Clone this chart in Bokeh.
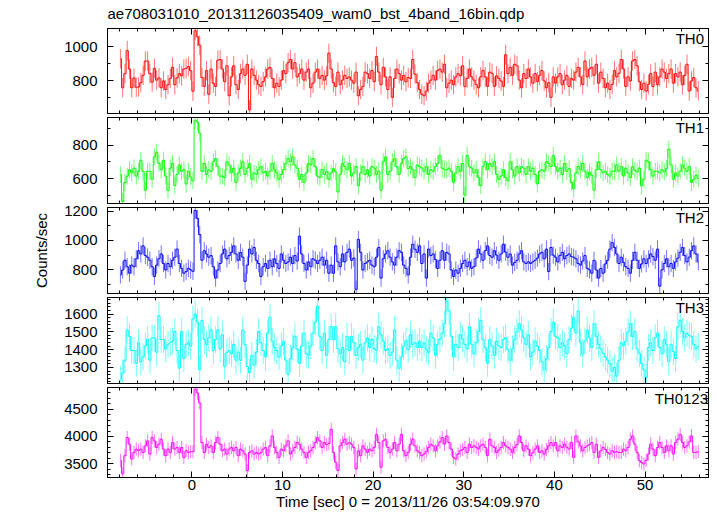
import numpy as np
from bokeh.plotting import figure
from bokeh.layouts import column
from bokeh.models import (Range1d, SingleIntervalTicker, FixedTicker, LinearAxis, Label,
                          CustomLabelingPolicy)
from bokeh.embed import file_html
from bokeh.resources import INLINE

title_text = "ae708031010_20131126035409_wam0_bst_4band_16bin.qdp"
x_label = "Time [sec] 0 = 2013/11/26 03:54:09.970"
y_label = "Counts/sec"
time_start = -8.0
bin_width = 0.25

th0 = [930, 760, 843, 978, 870, 760, 818, 763, 765, 790, 833, 917, 917, 843, 793, 874,
       805, 818, 760, 800, 750, 778, 815, 880, 778, 818, 843, 830, 870, 874, 885, 860,
       740, 1095, 1060, 1010, 820, 768, 861, 722, 870, 787, 768, 922, 926, 870, 796, 889,
       713, 824, 889, 778, 750, 843, 870, 833, 898, 630, 870, 833, 805, 778, 768, 796,
       824, 870, 880, 815, 760, 787, 768, 805, 861, 843, 907, 926, 870, 907, 824, 843,
       870, 805, 852, 870, 760, 787, 852, 870, 815, 833, 805, 830, 963, 870, 790, 768,
       852, 778, 805, 833, 815, 824, 805, 787, 852, 713, 750, 768, 852, 843, 815, 861,
       796, 944, 852, 778, 880, 824, 750, 824, 704, 815, 870, 843, 805, 833, 796, 820,
       815, 926, 840, 790, 750, 722, 713, 740, 787, 805, 833, 805, 861, 870, 852, 898,
       760, 787, 805, 778, 824, 843, 830, 889, 768, 815, 870, 824, 805, 778, 760, 824,
       861, 824, 768, 852, 845, 768, 830, 815, 800, 768, 954, 843, 880, 833, 898, 889,
       805, 760, 843, 815, 870, 824, 787, 843, 796, 833, 861, 800, 760, 790, 704, 824,
       787, 824, 843, 778, 805, 833, 768, 815, 805, 852, 880, 824, 780, 917, 824, 870,
       880, 833, 898, 787, 852, 815, 760, 787, 750, 780, 861, 824, 845, 926, 870, 768,
       824, 800, 917, 926, 889, 796, 750, 787, 741, 780, 843, 768, 852, 778, 824, 870,
       852, 815, 843, 870, 787, 843, 824, 852, 778, 833, 898, 741, 800, 820, 760, 741]

th1 = [625, 463, 577, 615, 653, 634, 663, 615, 644, 710, 644, 530, 644, 644, 596, 730,
       758, 691, 653, 710, 615, 530, 663, 691, 558, 625, 682, 644, 653, 568, 644, 610,
       587, 949, 939, 872, 644, 691, 625, 653, 644, 701, 720, 672, 615, 615, 606, 701,
       682, 634, 663, 577, 634, 663, 701, 625, 663, 691, 596, 634, 625, 653, 672, 634,
       644, 615, 644, 691, 653, 634, 596, 625, 653, 691, 720, 701, 730, 682, 663, 596,
       625, 577, 634, 691, 682, 720, 672, 615, 606, 653, 625, 644, 596, 634, 660, 640,
       520, 625, 691, 672, 653, 691, 615, 634, 672, 557, 634, 672, 625, 653, 615, 672,
       663, 625, 644, 530, 701, 730, 625, 644, 701, 720, 672, 625, 691, 720, 730, 660,
       672, 653, 606, 682, 672, 663, 644, 672, 625, 653, 644, 672, 691, 739, 663, 653,
       653, 663, 644, 577, 634, 672, 644, 691, 501, 739, 672, 663, 634, 653, 606, 558,
       672, 701, 653, 691, 672, 701, 625, 596, 615, 653, 606, 587, 701, 653, 615, 672,
       634, 672, 663, 625, 672, 644, 663, 625, 568, 644, 653, 644, 701, 691, 672, 739,
       672, 644, 663, 625, 691, 644, 660, 577, 539, 634, 672, 653, 691, 644, 606, 640,
       620, 530, 653, 701, 653, 634, 644, 625, 615, 644, 644, 682, 644, 672, 615, 663,
       634, 606, 672, 650, 640, 663, 557, 596, 710, 701, 653, 615, 644, 644, 634, 653,
       640, 660, 777, 682, 596, 634, 615, 644, 682, 663, 644, 672, 577, 596, 620, 600]

th2 = [766, 799, 865, 821, 777, 832, 821, 875, 930, 908, 963, 897, 886, 865, 821, 755,
       832, 875, 908, 843, 799, 843, 821, 865, 886, 941, 843, 810, 777, 788, 810, 800,
       790, 1204, 1150, 1040, 865, 930, 908, 886, 897, 821, 744, 799, 843, 908, 941, 875,
       897, 919, 963, 908, 865, 919, 886, 722, 832, 941, 908, 952, 865, 843, 755, 821,
       843, 810, 865, 821, 875, 843, 810, 908, 865, 843, 854, 886, 843, 897, 860, 1029,
       908, 843, 799, 854, 821, 875, 865, 843, 865, 886, 832, 865, 777, 832, 777, 963,
       854, 821, 908, 854, 919, 941, 865, 880, 667, 1007, 919, 799, 843, 854, 865, 832,
       821, 886, 952, 744, 875, 908, 930, 886, 854, 832, 886, 930, 919, 832, 810, 766,
       886, 974, 940, 919, 963, 843, 908, 744, 941, 897, 908, 870, 810, 865, 930, 865,
       919, 908, 799, 755, 799, 777, 810, 843, 865, 821, 854, 810, 821, 880, 941, 908,
       865, 930, 963, 897, 886, 930, 900, 865, 908, 974, 920, 886, 908, 832, 850, 865,
       908, 930, 854, 843, 854, 843, 854, 865, 880, 908, 919, 875, 941, 788, 952, 900,
       886, 854, 897, 919, 875, 897, 908, 890, 886, 875, 843, 832, 860, 897, 810, 800,
       777, 865, 799, 744, 810, 777, 840, 865, 941, 985, 952, 908, 843, 886, 850, 821,
       810, 777, 865, 919, 865, 810, 840, 875, 843, 875, 908, 890, 865, 941, 689, 800,
       843, 875, 821, 843, 810, 854, 880, 919, 952, 897, 854, 886, 930, 963, 908, 854]

th3 = [1234, 1270, 1341, 1511, 1475, 1395, 1395, 1323, 1439, 1332, 1359, 1421, 1457, 1341, 1466, 1466,
       1386, 1591, 1457, 1457, 1404, 1430, 1439, 1448, 1502, 1395, 1296, 1502, 1350, 1430, 1439, 1420,
       1573, 1600, 1555, 1287, 1564, 1457, 1430, 1466, 1511, 1395, 1457, 1511, 1404, 1484, 1305, 1386,
       1395, 1377, 1430, 1341, 1386, 1341, 1511, 1430, 1305, 1270, 1368, 1314, 1386, 1502, 1439, 1395,
       1359, 1493, 1582, 1448, 1412, 1395, 1359, 1421, 1448, 1341, 1261, 1350, 1412, 1475, 1404, 1323,
       1421, 1493, 1377, 1368, 1421, 1493, 1555, 1645, 1475, 1395, 1493, 1368, 1457, 1529, 1457, 1529,
       1404, 1377, 1412, 1332, 1475, 1395, 1475, 1439, 1368, 1412, 1430, 1341, 1439, 1466, 1412, 1457,
       1404, 1395, 1529, 1484, 1448, 1395, 1404, 1368, 1386, 1511, 1341, 1296, 1359, 1420, 1450, 1400,
       1484, 1430, 1439, 1412, 1448, 1412, 1439, 1400, 1386, 1493, 1466, 1368, 1430, 1460, 1493, 1546,
       1671, 1618, 1475, 1359, 1430, 1412, 1484, 1460, 1430, 1404, 1529, 1430, 1377, 1440, 1502, 1564,
       1457, 1412, 1323, 1457, 1421, 1368, 1448, 1420, 1412, 1457, 1466, 1400, 1341, 1404, 1457, 1500,
       1546, 1511, 1466, 1430, 1484, 1359, 1386, 1448, 1420, 1395, 1332, 1287, 1350, 1412, 1502, 1555,
       1475, 1466, 1412, 1439, 1420, 1377, 1457, 1520, 1582, 1493, 1618, 1439, 1377, 1448, 1511, 1466,
       1412, 1546, 1475, 1430, 1404, 1380, 1359, 1341, 1320, 1279, 1300, 1252, 1341, 1439, 1421, 1448,
       1500, 1546, 1475, 1502, 1404, 1380, 1323, 1287, 1243, 1412, 1439, 1395, 1466, 1493, 1412, 1377,
       1457, 1430, 1332, 1430, 1390, 1350, 1529, 1564, 1502, 1466, 1493, 1480, 1475, 1430, 1404, 1420]

th0123 = [3555, 3312, 3646, 3979, 3858, 3585, 3706, 3767, 3736, 3767, 3706, 3827, 3918, 3676, 3979, 3918,
          3797, 3858, 3948, 3767, 3646, 3767, 3706, 3888, 3767, 3797, 3706, 3797, 3615, 3736, 3706, 3720,
          3720, 4870, 4800, 4615, 3888, 3706, 3858, 3797, 3827, 3706, 3888, 3979, 3858, 3736, 3767, 3676,
          3767, 3797, 3736, 3797, 3646, 3767, 3736, 3676, 3373, 3706, 3736, 3676, 3706, 3676, 3700, 3767,
          3797, 3646, 3827, 4009, 3797, 3706, 3615, 3767, 3736, 3827, 3918, 3676, 3736, 3797, 3888, 3858,
          3767, 3706, 3615, 3706, 3736, 3797, 3888, 3979, 3918, 3797, 3888, 3850, 3870, 4130, 3706, 3524,
          3373, 3827, 3888, 3948, 3858, 3888, 3858, 3797, 3403, 3736, 3646, 3827, 3767, 3706, 3767, 3736,
          3797, 4039, 3888, 3433, 3918, 3948, 3797, 3706, 3767, 3888, 3736, 3858, 4039, 3736, 3646, 3706,
          3858, 3948, 3827, 3736, 3706, 3646, 3676, 3720, 3797, 3858, 3827, 3736, 3827, 3900, 3979, 3858,
          4009, 3888, 3767, 3615, 3585, 3676, 3736, 3760, 3797, 3706, 3858, 3797, 3827, 3800, 3767, 3827,
          3858, 3797, 3646, 3948, 3827, 3797, 3706, 3750, 3797, 3888, 3827, 3800, 3767, 3706, 3797, 3850,
          4009, 3888, 3736, 3827, 3767, 3646, 3700, 3767, 3827, 3706, 3736, 3676, 3760, 3827, 3888, 3827,
          3888, 3736, 3827, 3797, 3858, 3800, 3767, 3888, 3615, 4009, 3900, 3827, 3736, 3797, 3827, 3850,
          3888, 3706, 3858, 3615, 3736, 3797, 3760, 3706, 3676, 3736, 3706, 3720, 3706, 3706, 3767, 3736,
          3797, 3948, 4009, 3858, 3706, 3555, 3520, 3494, 3560, 3676, 3858, 3767, 3646, 3797, 3888, 3797,
          3706, 3827, 3736, 3827, 3676, 3888, 3950, 4039, 3888, 3797, 3827, 3900, 4009, 3706, 3706, 3720]

band_names = ["TH0", "TH1", "TH2", "TH3", "TH0123"]
band_rates = [th0, th1, th2, th3, th0123]
band_errors = [57, 51, 59, 76, 122]
band_colors = ["#ff0000", "#00ff00", "#0000ff", "#00ffff", "#ff00ff"]
y_ranges = [(609, 1108), (451, 966), (639, 1224), (1210, 1693), (3245, 4900)]
major_ticks = [[800, 1000], [600, 800], [800, 1000, 1200], [1300, 1400, 1500, 1600], [3500, 4000, 4500]]
minor_ticks = [[700, 900], [500, 700, 900], [700, 900, 1100],
               list(range(1220, 1700, 20)), list(range(3300, 4900, 100))]
label_x = [56.5, 56.5, 56.5, 56.5, 56.95]
x_range = (-9.3, 57.0)

FONT = "Liberation Sans"
FS = "15px"
FRAME_H = 90
TOP = 27
OVERLAP = 10
BOTTOM = 39
LEFT = 107
RIGHT = 9
WIDTH = 717


def hidden_policy():
    return CustomLabelingPolicy(code="for (const i of indices) { indices.unset(i) }\nreturn indices")


def style_axis(ax, show_labels):
    ax.axis_line_color = "black"
    ax.major_tick_line_color = "black"
    ax.minor_tick_line_color = "black"
    ax.major_tick_in = 6
    ax.major_tick_out = 0
    ax.minor_tick_in = 3
    ax.minor_tick_out = 0
    ax.major_label_text_font = FONT
    ax.major_label_text_color = "black"
    ax.major_label_text_font_size = FS
    if not show_labels:
        ax.major_label_policy = hidden_policy()
        ax.major_label_text_font_size = "1px"
        ax.major_label_standoff = 0
    ax.axis_label_text_font = FONT
    ax.axis_label_text_font_size = FS
    ax.axis_label_text_font_style = "normal"
    ax.axis_label_text_color = "black"


figs = []
n = len(band_names)
for i in range(n):
    first = i == 0
    last = i == n - 1
    top = TOP if first else OVERLAP
    bottom = BOTTOM if last else 0
    h = FRAME_H + top + bottom
    yr = y_ranges[i]
    p = figure(width=WIDTH, height=h, x_range=Range1d(*x_range), y_range=Range1d(*yr),
               output_backend="svg", toolbar_location=None,
               x_axis_location=None, y_axis_location=None,
               min_border_left=LEFT, min_border_right=RIGHT,
               min_border_top=top, min_border_bottom=bottom,
               title=title_text if first else None)
    p.grid.visible = False
    p.outline_line_color = "black"
    p.background_fill_color = "white"
    if first:
        p.border_fill_color = "white"
        p.title.align = "left"
        p.title.offset = 0
        p.title.standoff = 5
        p.title.text_font = FONT
        p.title.text_font_size = FS
        p.title.text_font_style = "normal"
        p.title.text_color = "black"
    else:
        p.border_fill_alpha = 0
        p.margin = (-OVERLAP, 0, 0, 0)

    yt = FixedTicker(ticks=major_ticks[i], minor_ticks=minor_ticks[i])
    left = LinearAxis(ticker=yt)
    style_axis(left, True)
    left.major_label_standoff = 10
    if i == 2:
        left.axis_label = y_label
        left.axis_label_standoff = 11
    p.add_layout(left, "left")
    right = LinearAxis(ticker=FixedTicker(ticks=major_ticks[i], minor_ticks=minor_ticks[i]))
    style_axis(right, False)
    p.add_layout(right, "right")

    below = LinearAxis(ticker=SingleIntervalTicker(interval=10, num_minor_ticks=5))
    style_axis(below, last)
    if last:
        below.major_label_standoff = 2
        below.axis_label = x_label
        below.axis_label_standoff = 0
    p.add_layout(below, "below")
    above = LinearAxis(ticker=SingleIntervalTicker(interval=10, num_minor_ticks=5))
    style_axis(above, False)
    p.add_layout(above, "above")

    rates = np.array(band_rates[i], dtype=float)
    t = time_start + bin_width * (np.arange(len(rates)) + 0.5)
    err = band_errors[i]
    col = band_colors[i]
    p.segment(x0=t, y0=rates - err, x1=t, y1=rates + err,
              line_color=col, line_alpha=0.55, line_width=1)
    p.step(x=t, y=rates, mode="center", line_color=col, line_width=1, line_alpha=0.95)

    ly = yr[1] - (yr[1] - yr[0]) * 10.5 / FRAME_H
    p.add_layout(Label(x=label_x[i], y=ly, text=band_names[i], text_align="right",
                       text_baseline="middle", text_font=FONT, text_font_size=FS,
                       text_color="black"))
    figs.append(p)

layout = column(*figs, spacing=0)
open("out.html", "w").write(file_html(layout, INLINE))
